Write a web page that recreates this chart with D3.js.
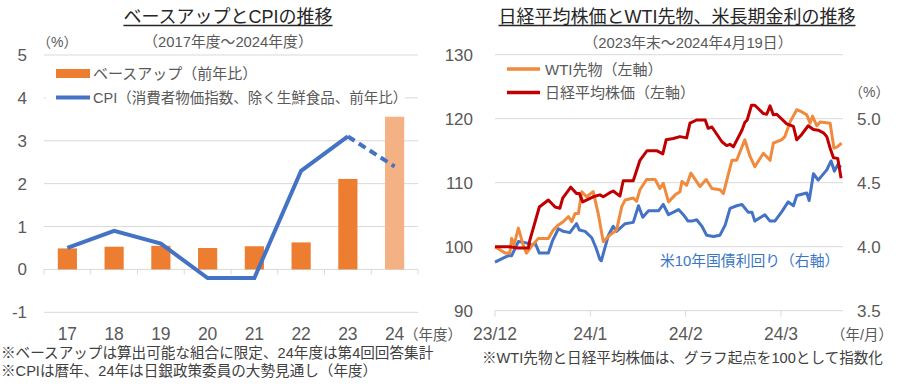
<!DOCTYPE html>
<html><head><meta charset="utf-8">
<script src="https://cdn.jsdelivr.net/npm/d3@7/dist/d3.min.js"></script>
<style>
body{margin:0;background:#fff}
svg{font-family:"Liberation Sans","Noto Sans CJK JP",sans-serif}
</style>
</head><body>
<svg id="c" width="900" height="390"></svg>
<script>
// ---------- Left chart data ----------
const years = ["17","18","19","20","21","22","23","24"];
const baseUp = [0.49,0.53,0.55,0.50,0.54,0.63,2.11,3.56];
const cpi = [0.5,0.9,0.6,-0.2,-0.2,2.3,3.1,2.4];
const leftTicks = [-1,0,1,2,3,4,5];

// ---------- Right chart data (trading-day index, value) ----------
const nikkeiDays = [0,3,4.8,7,7.3,9.3,11.2,12.6,13.6,14.2,15.9,17.1,17.7,18.4,20.6,22,22.7,24,24.8,26.2,26.9,29,30.1,30.4,31.9,33.9,35.2,35.9,37.4,38.8,40.2,40.9,42.3,44.1,44.7,45.5,47.6,48.6,49.3,50,51.8,52.4,52.9,53.8,54.5,56.3,57,57.7,58.4,59.1,61.2,61.9,62.6,63.3,64.3,65.7,66.8,67.8,68.9,69.6,70.3,71,71.9,72.6];
const nikkeiVals = [100,100,99.8,99.8,101,106.2,107.3,106.2,106.0,107.6,109.3,108.3,108.3,107.0,107.8,108.1,107.8,108.4,108.7,107.9,110.3,110.3,112.8,113.5,115.0,115.0,114.5,116.7,116.9,117.2,117.0,119.3,119.8,119.8,118.5,118.7,116.4,115.8,116.0,115.6,118.2,119.4,119.8,122.1,122.1,120.8,120.7,122.0,120.6,120.7,119.2,119.0,118.8,116.7,117.5,118.9,118.3,118.2,117.8,117.2,115.4,113.9,113.8,110.7];
const wtiDays = [0,2.1,3.1,3.5,4,4.9,5.9,6.6,7.7,9.1,11.2,12.2,13.3,14.3,15.4,16.1,16.8,17.5,18.2,19.2,20.6,21.7,22.7,24.1,25.5,26.6,27.3,29,29.7,30.4,31.8,33.6,34.6,35.3,36.4,37.8,38.8,39.2,40.2,41.1,43,44.3,45.5,47.2,47.9,49.7,50.7,52.4,53.5,54.5,56.3,57.7,58.4,60.1,60.8,61.9,63.3,64.3,65.4,66.1,66.6,67.5,68.2,70.3,71.1,71.8,72.7];
const wtiVals = [100,99.0,99.0,101.3,100.3,102.9,100.3,99.0,100.1,101.3,101.3,102.6,103.4,103.9,104.7,103.9,105.2,105.2,108.6,107.8,108.6,105.0,100.8,101.8,102.6,106.3,107.3,107.6,107.1,108.9,110.5,110.5,109.1,109.9,107.0,108.1,108.6,110.2,109.6,111.5,109.4,110.5,109.1,108.9,108.3,113.5,113.5,116.7,114.1,112.5,114.6,113.5,116.2,116.7,117.2,119.5,121.4,121.1,120.6,119.3,120.4,118.9,119.5,119.3,115.4,115.6,116.2];
const ustDays = [0,1.7,2.8,3.5,4.9,6.6,7.7,8.4,9.3,11.2,12.1,13.3,14.3,15.7,17.1,17.7,18.9,20.3,21.2,22,22.3,23.8,24.8,25.5,27.3,29,30.1,31,32.2,34.3,35.3,36.4,38.5,39.5,40.5,41.3,42.3,43.4,44.4,45.8,47.2,48.3,49.3,50.7,51.8,53.1,53.9,54.5,56.6,57.7,58.7,60.1,61.5,62.6,63.3,65.4,65.9,66.8,67.8,69.6,70.5,71.2,71.9,72.6];
const ustVals = [3.88,3.91,3.93,3.93,4.04,4.03,4.01,4.03,3.95,3.95,4.05,4.14,4.12,4.11,4.18,4.13,4.12,4.07,3.99,3.90,3.89,4.09,4.16,4.12,4.18,4.19,4.32,4.23,4.28,4.28,4.33,4.25,4.29,4.25,4.20,4.20,4.21,4.16,4.09,4.08,4.09,4.17,4.30,4.32,4.33,4.27,4.27,4.20,4.25,4.20,4.20,4.27,4.35,4.32,4.40,4.42,4.36,4.57,4.52,4.60,4.67,4.59,4.64,4.62];
const rightLeftTicks = [90,100,110,120,130];
const rightRightTicks = [3.5,4.0,4.5,5.0];
const monthTickDays = [0,20,40,60];
const monthTickLabels = ["23/12","24/1","24/2","24/3"];

// ---------- Styles ----------
const GRID = "#d9d9d9", TXT = "#595959", DARK = "#262626";
const C_BAR = "#ed7d31", C_BAR_LIGHT = "#f4b183", C_BLUE = "#4472c4", C_RED = "#c00000", C_WTI = "#f08a3c";

const svg = d3.select("#c");

function title(x, y, str, size) {
  const t = svg.append("text").attr("x", x).attr("y", y).attr("text-anchor", "middle")
    .attr("font-size", size).attr("fill", DARK).text(str);
  const b = t.node().getBBox();
  svg.append("line").attr("x1", b.x).attr("x2", b.x + b.width)
    .attr("y1", y + 2.5).attr("y2", y + 2.5).attr("stroke", DARK).attr("stroke-width", 1.3);
}
function txt(x, y, str, size, anchor, fill) {
  return svg.append("text").attr("x", x).attr("y", y).attr("text-anchor", anchor || "start")
    .attr("font-size", size).attr("fill", fill || TXT).text(str);
}

// ================= LEFT CHART =================
const L = {x0: 44, x1: 418, yTop: 55, yBot: 312.3};
const xL = d3.scaleBand().domain(years).range([L.x0, L.x1]).padding(0);
const yL = d3.scaleLinear().domain([-1, 5]).range([L.yBot, L.yTop]);

title(228, 23, "ベースアップとCPIの推移", 18);
txt(228, 47, "（2017年度～2024年度）", 14.8, "middle");
txt(37, 47, "（%）", 14);

// gridlines
svg.append("g").selectAll("line").data(leftTicks).join("line")
  .attr("x1", L.x0).attr("x2", L.x1).attr("y1", d => yL(d)).attr("y2", d => yL(d))
  .attr("stroke", GRID).attr("stroke-width", 1);
// y labels
svg.append("g").selectAll("text").data(leftTicks).join("text")
  .attr("x", 27).attr("y", d => yL(d) + 6).attr("text-anchor", "end")
  .attr("font-size", 17).attr("fill", TXT).text(d => d);
// category tick marks at zero line
const bounds = years.map(y => xL(y)).concat([L.x1]);
svg.append("g").selectAll("line").data(bounds).join("line")
  .attr("x1", d => d).attr("x2", d => d).attr("y1", yL(0)).attr("y2", yL(0) + 5)
  .attr("stroke", GRID);

// legend background
svg.append("rect").attr("x", L.x0 + 2).attr("y", 60).attr("width", 359).attr("height", 47).attr("fill", "#fff");

// bars
const bw = xL.bandwidth() * 0.41;
svg.append("g").selectAll("rect").data(baseUp).join("rect")
  .attr("x", (d, i) => xL(years[i]) + xL.bandwidth() / 2 - bw / 2)
  .attr("width", bw)
  .attr("y", d => yL(Math.max(0, d)))
  .attr("height", d => Math.abs(yL(d) - yL(0)))
  .attr("fill", (d, i) => i === years.length - 1 ? C_BAR_LIGHT : C_BAR);

// CPI line
const cx = (i) => xL(years[i]) + xL.bandwidth() / 2;
const lineL = d3.line().x(d => cx(d.i)).y(d => yL(d.v));
const cpiPts = cpi.map((v, i) => ({i, v}));
svg.append("path").datum(cpiPts.slice(0, 7)).attr("d", lineL)
  .attr("fill", "none").attr("stroke", C_BLUE).attr("stroke-width", 4).attr("stroke-linejoin", "miter");
svg.append("path").datum(cpiPts.slice(6)).attr("d", lineL)
  .attr("fill", "none").attr("stroke", C_BLUE).attr("stroke-width", 4).attr("stroke-dasharray", "8,5");

// legend
svg.append("rect").attr("x", 56).attr("y", 69).attr("width", 34).attr("height", 9).attr("fill", C_BAR);
txt(93, 79, "ベースアップ（前年比）", 15);
svg.append("line").attr("x1", 56).attr("x2", 90).attr("y1", 97.5).attr("y2", 97.5)
  .attr("stroke", C_BLUE).attr("stroke-width", 4);
txt(93, 103, "CPI（消費者物価指数、除く生鮮食品、前年比）", 14.5);

// x labels
svg.append("g").selectAll("text").data(years).join("text")
  .attr("x", (d, i) => cx(i)).attr("y", 339.5).attr("text-anchor", "middle")
  .attr("font-size", 17.5).attr("fill", TXT).text(d => d);
txt(404, 339.5, "（年度）", 14.5);

// footnotes
txt(1, 357.5, "※ベースアップは算出可能な組合に限定、24年度は第4回回答集計", 14.6, "start", "#404040");
txt(1, 376, "※CPIは暦年、24年は日銀政策委員の大勢見通し（年度）", 14.6, "start", "#404040");

// ================= RIGHT CHART =================
const R = {x0: 495, x1: 843, yTop: 54.7, yBot: 310.7};
const xR = d3.scaleLinear().domain([0, 73]).range([R.x0, R.x1]);
const yR = d3.scaleLinear().domain([90, 130]).range([R.yBot, R.yTop]);
const yR2 = d3.scaleLinear().domain([3.5, 5.5]).range([R.yBot, R.yTop]);

title(677, 23, "日経平均株価とWTI先物、米長期金利の推移", 18);
txt(688, 48, "（2023年末～2024年4月19日）", 14.8, "middle");

svg.append("g").selectAll("line").data(rightLeftTicks).join("line")
  .attr("x1", R.x0).attr("x2", R.x1).attr("y1", d => yR(d)).attr("y2", d => yR(d))
  .attr("stroke", GRID);
svg.append("g").selectAll("line").data(monthTickDays).join("line")
  .attr("x1", d => xR(d)).attr("x2", d => xR(d)).attr("y1", yR(90)).attr("y2", yR(90) + 6)
  .attr("stroke", GRID);
svg.append("g").selectAll("text").data(rightLeftTicks).join("text")
  .attr("x", 473).attr("y", d => yR(d) + 6).attr("text-anchor", "end")
  .attr("font-size", 17).attr("fill", TXT).text(d => d);
svg.append("g").selectAll("text").data(rightRightTicks).join("text")
  .attr("x", 857).attr("y", d => yR2(d) + 6).attr("text-anchor", "start")
  .attr("font-size", 17).attr("fill", TXT).text(d => d.toFixed(1));
txt(849, 97, "（%）", 14);
svg.append("g").selectAll("text").data(monthTickLabels).join("text")
  .attr("x", (d, i) => xR(monthTickDays[i])).attr("y", 339.5).attr("text-anchor", "middle")
  .attr("font-size", 17.5).attr("fill", TXT).text(d => d);
txt(831, 339.5, "（年/月）", 14.5);

const mk = (days, vals) => days.map((d, i) => ({d, v: vals[i]}));
const lineR = d3.line().x(p => xR(p.d)).y(p => yR(p.v));
const lineR2 = d3.line().x(p => xR(p.d)).y(p => yR2(p.v));
svg.append("path").datum(mk(ustDays, ustVals)).attr("d", lineR2)
  .attr("fill", "none").attr("stroke", C_BLUE).attr("stroke-width", 3).attr("stroke-linejoin", "round");
svg.append("path").datum(mk(wtiDays, wtiVals)).attr("d", lineR)
  .attr("fill", "none").attr("stroke", C_WTI).attr("stroke-width", 3).attr("stroke-linejoin", "round");
svg.append("path").datum(mk(nikkeiDays, nikkeiVals)).attr("d", lineR)
  .attr("fill", "none").attr("stroke", C_RED).attr("stroke-width", 3).attr("stroke-linejoin", "round");

// legend
svg.append("line").attr("x1", 507).attr("x2", 540).attr("y1", 69).attr("y2", 69).attr("stroke", C_WTI).attr("stroke-width", 3.5);
txt(545, 75, "WTI先物（左軸）", 15);
svg.append("line").attr("x1", 507).attr("x2", 540).attr("y1", 92.5).attr("y2", 92.5).attr("stroke", C_RED).attr("stroke-width", 3.5);
txt(545, 98, "日経平均株価（左軸）", 15);
txt(660, 266, "米10年国債利回り（右軸）", 14.8, "start", "#3a76c4");

txt(482, 363, "※WTI先物と日経平均株価は、グラフ起点を100として指数化", 14.6, "start", "#404040");
</script>
</body></html>
